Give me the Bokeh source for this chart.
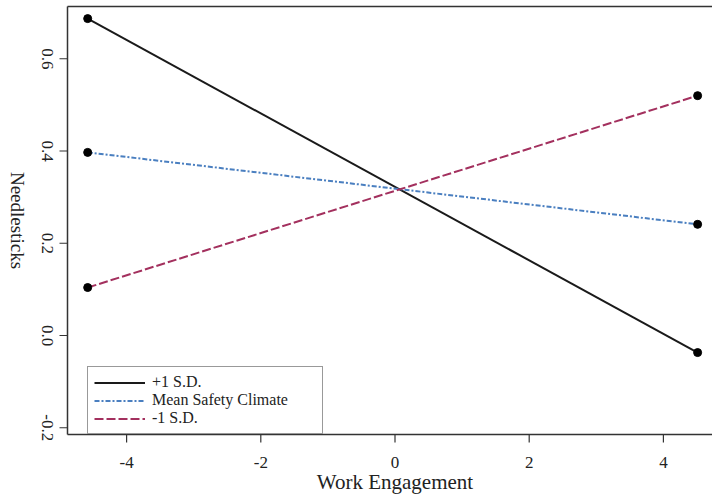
from math import pi
from bokeh.plotting import figure
from bokeh.models import Range1d, Legend, LegendItem
from bokeh.core.properties import value
from bokeh.embed import file_html
from bokeh.resources import INLINE

# ---- data ----
work_engagement = [-4.58, 4.51]
plus_1sd = [0.687, -0.037]
mean_safety = [0.397, 0.241]
minus_1sd = [0.104, 0.520]
series_names = ["+1 S.D.", "Mean Safety Climate", "-1 S.D."]
x_ticks = [-4, -2, 0, 2, 4]
x_tick_labels = ["-4", "-2", "0", "2", "4"]
y_ticks = [-0.2, 0.0, 0.2, 0.4, 0.6]
y_tick_labels = ["-0.2", "0.0", "0.2", "0.4", "0.6"]

# ---- geometry (R-style box, right side cut off as in the reference) ----
FONT = "Liberation Serif"
TXT = "#222222"
AX = "#333333"
W, H = 712, 495
PXX, PXY = 67.1, 461.25            # pixels per data unit (x, y)
X_ORIGIN, Y_ORIGIN = 394.5, 335.0  # pixel position of data (0, 0)
BOX_L, BOX_T, BOX_B = 67, 6, 434   # box edges in pixels
TICK = 8

def dx(px):
    return px / PXX

def dy(px):
    return px / PXY

XL, XR = -X_ORIGIN / PXX, (W - X_ORIGIN) / PXX
YB, YT = (Y_ORIGIN - H) / PXY, Y_ORIGIN / PXY
BX0 = (BOX_L - X_ORIGIN) / PXX
BY1 = (Y_ORIGIN - BOX_T) / PXY
BY0 = (Y_ORIGIN - BOX_B) / PXY

p = figure(width=W, height=H, output_backend="svg", toolbar_location=None,
           x_range=Range1d(XL, XR), y_range=Range1d(YB, YT),
           x_axis_location=None, y_axis_location=None,
           min_border_left=0, min_border_right=0, min_border_top=0, min_border_bottom=0)
p.background_fill_color = "white"
p.border_fill_color = "white"
p.outline_line_color = None
p.xgrid.visible = False
p.ygrid.visible = False

# box (left, top, bottom)
p.segment(x0=[BX0, BX0, BX0], y0=[BY0, BY1, BY0],
          x1=[BX0, XR, XR], y1=[BY1, BY1, BY0],
          line_color=AX, line_width=1.5)

# x axis: ticks, labels, title
p.segment(x0=x_ticks, y0=[BY0] * len(x_ticks), x1=x_ticks,
          y1=[BY0 - dy(TICK)] * len(x_ticks), line_color=AX, line_width=1.2)
p.text(x=x_ticks, y=[BY0 - dy(28)] * len(x_ticks), text=x_tick_labels,
       text_align="center", text_baseline="middle",
       text_font=value(FONT), text_font_size="17px", text_color=TXT)
p.text(x=[0.0], y=[BY0 - dy(47)], text=["Work Engagement"],
       text_align="center", text_baseline="middle",
       text_font=value(FONT), text_font_size="21px", text_color=TXT)

# y axis: ticks, labels read top-to-bottom, title
p.segment(x0=[BX0] * len(y_ticks), y0=y_ticks, x1=[BX0 - dx(TICK)] * len(y_ticks),
          y1=y_ticks, line_color=AX, line_width=1.2)
p.text(x=[BX0 - dx(20.5)] * len(y_ticks), y=y_ticks, text=y_tick_labels, angle=-pi / 2,
       text_align="center", text_baseline="middle",
       text_font=value(FONT), text_font_size="17px", text_color=TXT)
p.text(x=[BX0 - dx(50)], y=[(BY0 + BY1) / 2], text=["Needlesticks"], angle=-pi / 2,
       text_align="center", text_baseline="middle",
       text_font=value(FONT), text_font_size="19px", text_color=TXT)

# series
r1 = p.line(work_engagement, plus_1sd, line_color="#1a1a1a", line_width=2)
r2 = p.line(work_engagement, mean_safety, line_color="#4a7fc0", line_width=2,
            line_dash="5 2 2 2")
r3 = p.line(work_engagement, minus_1sd, line_color="#a3305e", line_width=2,
            line_dash="9 3")
for ys in (plus_1sd, mean_safety, minus_1sd):
    p.scatter(work_engagement, ys, size=8, fill_color="black", line_color="black")

legend = Legend(items=[LegendItem(label=series_names[0], renderers=[r1]),
                       LegendItem(label=series_names[1], renderers=[r2]),
                       LegendItem(label=series_names[2], renderers=[r3])],
                location=(87, H - BOX_B), orientation="vertical")
legend.label_text_font = FONT
legend.label_text_font_size = "16px"
legend.label_text_color = TXT
legend.label_height = 17
legend.glyph_height = 17
legend.glyph_width = 51
legend.label_standoff = 7
legend.label_width = 164
legend.spacing = 0
legend.padding = 6
legend.margin = 0
legend.border_line_color = AX
legend.border_line_width = 1.3
legend.background_fill_alpha = 1
p.add_layout(legend)

open("out.html", "w").write(file_html(p, INLINE))
